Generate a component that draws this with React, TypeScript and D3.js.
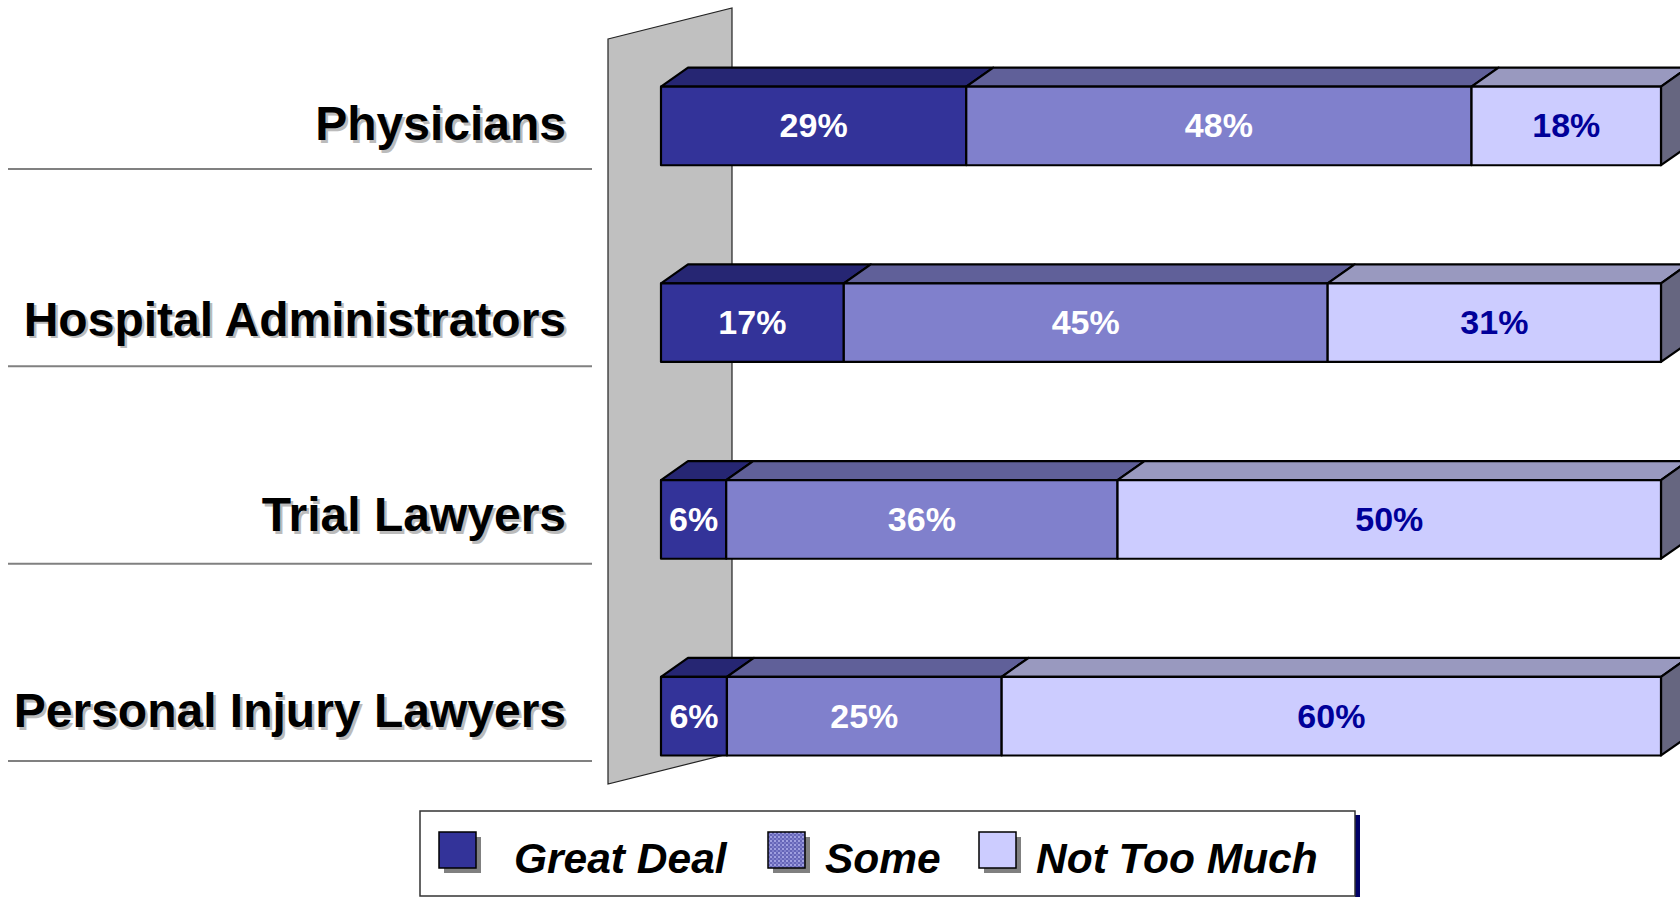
import React from "react";
import * as d3 from "d3";

const categories = ["Physicians", "Hospital Administrators", "Trial Lawyers", "Personal Injury Lawyers"];
const seriesNames = ["Great Deal", "Some", "Not Too Much"];
const greatDeal = [29, 17, 6, 6];
const some = [48, 45, 36, 25];
const notTooMuch = [18, 31, 50, 60];

const frontColors = ["#333399", "#8080CC", "#CCCCFF"];
const topColors = ["#262673", "#606099", "#9999BF"];
const sideColor = "#666680";
const labelColors = ["#FFFFFF", "#FFFFFF", "#000099"];

const W = 1680;
const H = 897;
const DX = 27;
const DY = 19;
const FONT = "'Liberation Sans', Arial, Helvetica, sans-serif";

export default function App() {
  const x = d3.scaleLinear().domain([0, 1]).range([661, 1661]);
  const y = d3
    .scaleBand<string>()
    .domain(categories)
    .range([27.5, 814.5])
    .paddingInner(0.6)
    .paddingOuter(0.3);
  const bw = y.bandwidth();
  const labelBase = d3.scalePoint<string>().domain(categories).range([140, 727]);
  const sepY = d3.scalePoint<string>().domain(categories).range([169, 761]);

  const rows = categories.map((c, i) => {
    const vals = [greatDeal[i], some[i], notTooMuch[i]];
    const total = d3.sum(vals);
    let acc = 0;
    const segs = vals.map((v, k) => {
      const s = acc / total;
      acc += v;
      return { k, v, x0: x(s), x1: x(acc / total) };
    });
    return { c, segs, yt: y(c)!, yb: y(c)! + bw };
  });

  const wallL = 608;
  const wallR = 732;
  const wallTopL = 39;
  const wallTopR = 8;
  const wallBotL = 784;
  const wallBotR = 753;

  const legendItems = [
    { name: seriesNames[0], sx: 439, tx: 514 },
    { name: seriesNames[1], sx: 768, tx: 825 },
    { name: seriesNames[2], sx: 979, tx: 1036 },
  ];

  return (
    <svg
      width={W}
      height={H}
      style={{ position: "absolute", left: 0, top: 0, background: "#fff" }}
      fontFamily={FONT}
    >
      <defs>
        <pattern id="dither" width="4" height="4" patternUnits="userSpaceOnUse">
          <rect width="4" height="4" fill="#8080CC" />
          <rect width="2" height="2" fill="#6666B8" />
          <rect x="2" y="2" width="2" height="2" fill="#6666B8" />
          <rect x="2" y="0" width="2" height="2" fill="#A0A0E0" />
        </pattern>
      </defs>

      <polygon
        points={`${wallL},${wallTopL} ${wallR},${wallTopR} ${wallR},${wallBotR} ${wallL},${wallBotL}`}
        fill="#C0C0C0"
        stroke="#222"
        strokeWidth={1.2}
      />

      {categories.map((c) => (
        <g key={c}>
          <line x1={8} x2={592} y1={sepY(c)} y2={sepY(c)} stroke="#808080" strokeWidth={2} />
          <text x={568.5} y={labelBase(c)! + 2.5} textAnchor="end" fontSize={48} fontWeight="bold" fill="#BBBBBB">
            {c}
          </text>
          <text x={566} y={labelBase(c)} textAnchor="end" fontSize={48} fontWeight="bold" fill="#000">
            {c}
          </text>
        </g>
      ))}

      {rows.map((r) => {
        const cy = (r.yt + r.yb) / 2;
        const last = r.segs[r.segs.length - 1];
        return (
          <g key={r.c} stroke="#000" strokeWidth={2.2} strokeLinejoin="round">
            {r.segs.map((s) => (
              <polygon
                key={"t" + s.k}
                points={`${s.x0},${r.yt} ${s.x0 + DX},${r.yt - DY} ${s.x1 + DX},${r.yt - DY} ${s.x1},${r.yt}`}
                fill={topColors[s.k]}
              />
            ))}
            <polygon
              points={`${last.x1},${r.yt} ${last.x1 + DX},${r.yt - DY} ${last.x1 + DX},${r.yb - DY} ${last.x1},${r.yb}`}
              fill={sideColor}
            />
            {r.segs.map((s) => (
              <rect
                key={"f" + s.k}
                x={s.x0}
                y={r.yt}
                width={s.x1 - s.x0}
                height={bw}
                fill={frontColors[s.k]}
              />
            ))}
            {r.segs.map((s) => (
              <text
                key={"l" + s.k}
                x={(s.x0 + s.x1) / 2}
                y={cy + 11.5}
                textAnchor="middle"
                fontSize={34}
                fontWeight="bold"
                fill={labelColors[s.k]}
                stroke="none"
              >
                {s.v}%
              </text>
            ))}
          </g>
        );
      })}

      <rect x={1355} y={815} width={5} height={82} fill="#000066" />
      <rect x={420} y={811} width={935} height={85} fill="#fff" stroke="#333" strokeWidth={1.5} />
      {legendItems.map((it, k) => (
        <g key={it.name}>
          <rect x={it.sx + 5} y={837} width={37} height={36} fill="#808080" />
          <rect
            x={it.sx}
            y={832}
            width={37}
            height={36}
            fill={k === 1 ? "url(#dither)" : frontColors[k]}
            stroke="#000"
            strokeWidth={1.5}
          />
          <text x={it.tx} y={873} fontSize={42.5} fontWeight="bold" fontStyle="italic" fill="#000">
            {it.name}
          </text>
        </g>
      ))}
    </svg>
  );
}
